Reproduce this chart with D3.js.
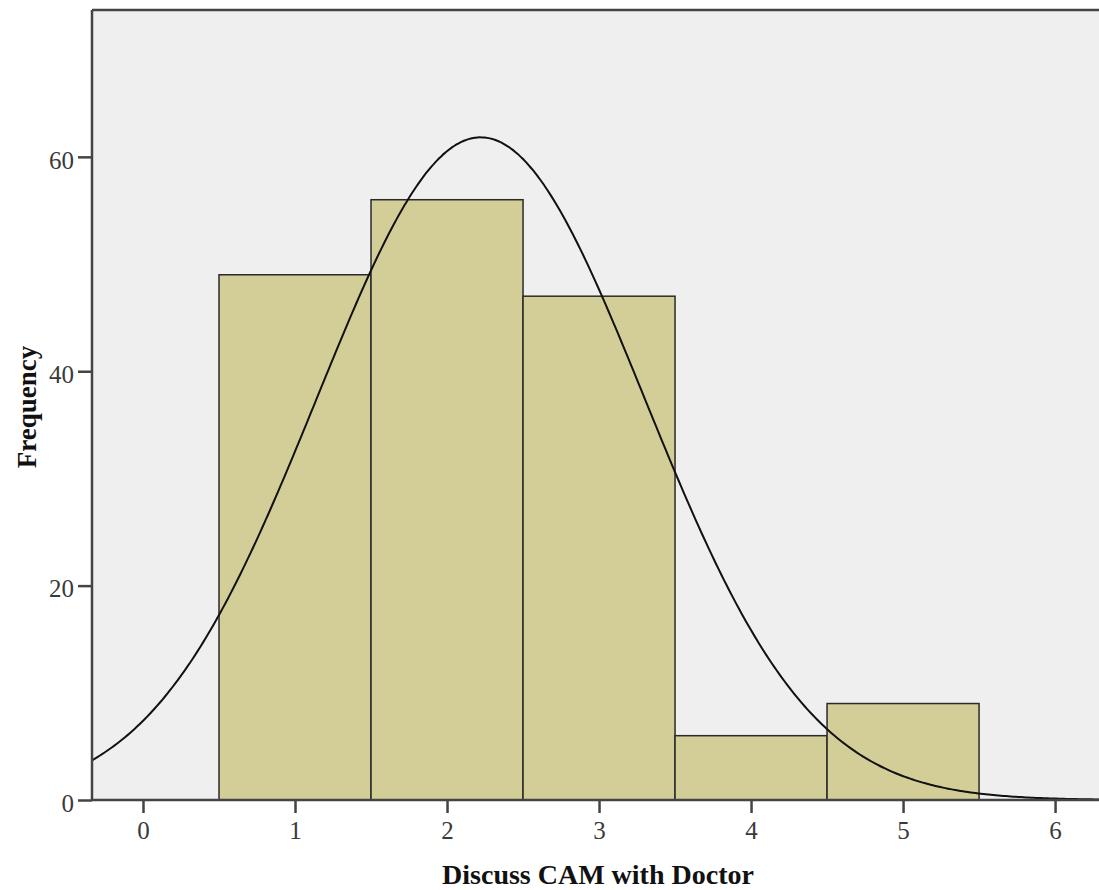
<!DOCTYPE html>
<html>
<head>
<meta charset="utf-8">
<script src="https://cdn.jsdelivr.net/npm/d3@7"></script>
<style>
  html, body { margin: 0; padding: 0; background: #fff; }
  svg { display: block; }
</style>
</head>
<body>
<svg id="chart" width="1099" height="890"></svg>
<script>
// Histogram bins: category centre and frequency
const binCenters = [1, 2, 3, 4, 5];
const frequencies = [49, 56, 47, 6, 9];
const xTicks = [0, 1, 2, 3, 4, 5, 6];
const yTicks = [0, 20, 40, 60];
const xTitle = "Discuss CAM with Doctor";
const yTitle = "Frequency";

const svg = d3.select("#chart");
const plot = { left: 92, top: 10, right: 1099, bottom: 800 };

const x = d3.scaleLinear().domain([-0.3355, 6.289]).range([plot.left, plot.right]);
const y = d3.scaleLinear().domain([0, 73.7]).range([plot.bottom, plot.top]);

// plot background
svg.append("rect")
  .attr("x", plot.left).attr("y", plot.top)
  .attr("width", plot.right - plot.left).attr("height", plot.bottom - plot.top)
  .attr("fill", "#efefef");

// bars
svg.append("g").selectAll("rect")
  .data(binCenters.map((c, i) => ({ c, f: frequencies[i] })))
  .join("rect")
  .attr("x", d => x(d.c - 0.5))
  .attr("y", d => y(d.f))
  .attr("width", d => x(d.c + 0.5) - x(d.c - 0.5))
  .attr("height", d => y(0) - y(d.f))
  .attr("fill", "#d3ce98")
  .attr("stroke", "#2a2a2a")
  .attr("stroke-width", 1.5);

// normal curve fitted to the binned data
const n = d3.sum(frequencies);
const mean = d3.sum(binCenters.map((c, i) => c * frequencies[i])) / n;
const variance = d3.sum(binCenters.map((c, i) => frequencies[i] * (c - mean) ** 2)) / (n - 1);
const sd = Math.sqrt(variance);
const density = v => n / (sd * Math.sqrt(2 * Math.PI)) * Math.exp(-0.5 * ((v - mean) / sd) ** 2);
const [x0, x1] = x.domain();
const curvePts = d3.range(0, 401).map(i => x0 + (x1 - x0) * i / 400);
svg.append("path")
  .datum(curvePts)
  .attr("fill", "none")
  .attr("stroke", "#111")
  .attr("stroke-width", 2)
  .attr("d", d3.line().x(v => x(v)).y(v => y(density(v))).curve(d3.curveMonotoneX));

// axes
const tickFont = "'Liberation Serif', 'DejaVu Serif', serif";
const xAxis = d3.axisBottom(x).tickValues(xTicks).tickSize(13).tickPadding(8).tickFormat(d3.format("d"));
const gx = svg.append("g").attr("transform", `translate(0,${plot.bottom})`).call(xAxis);
const yAxis = d3.axisLeft(y).tickValues(yTicks).tickSize(14).tickPadding(4).tickFormat(d3.format("d"));
const gy = svg.append("g").attr("transform", `translate(${plot.left},0)`).call(yAxis);

[gx, gy].forEach(g => {
  g.select(".domain").remove();
  g.selectAll(".tick line").attr("stroke", "#444").attr("stroke-width", 2.5);
  g.selectAll(".tick text")
    .attr("fill", "#3a3a3a")
    .style("font-family", tickFont)
    .style("font-size", "25px")
    .style("font-weight", "300");
});
gy.selectAll(".tick text").attr("dy", "0.45em");

// frame lines: left, bottom, top
const frame = [
  [plot.left, plot.top, plot.left, plot.bottom],
  [plot.left, plot.bottom, plot.right, plot.bottom],
  [plot.left, plot.top, plot.right, plot.top]
];
svg.append("g").selectAll("line").data(frame).join("line")
  .attr("x1", d => d[0]).attr("y1", d => d[1]).attr("x2", d => d[2]).attr("y2", d => d[3])
  .attr("stroke", "#444").attr("stroke-width", 2.5);

// axis titles
svg.append("text")
  .attr("x", 598).attr("y", 884)
  .attr("text-anchor", "middle")
  .style("font-family", "'Liberation Serif', serif")
  .style("font-weight", "bold")
  .style("font-size", "28px")
  .attr("fill", "#111")
  .text(xTitle);
svg.append("text")
  .attr("transform", "translate(36,407) rotate(-90)")
  .attr("text-anchor", "middle")
  .style("font-family", "'Liberation Serif', serif")
  .style("font-weight", "bold")
  .style("font-size", "27px")
  .attr("fill", "#111")
  .text(yTitle);
</script>
</body>
</html>
